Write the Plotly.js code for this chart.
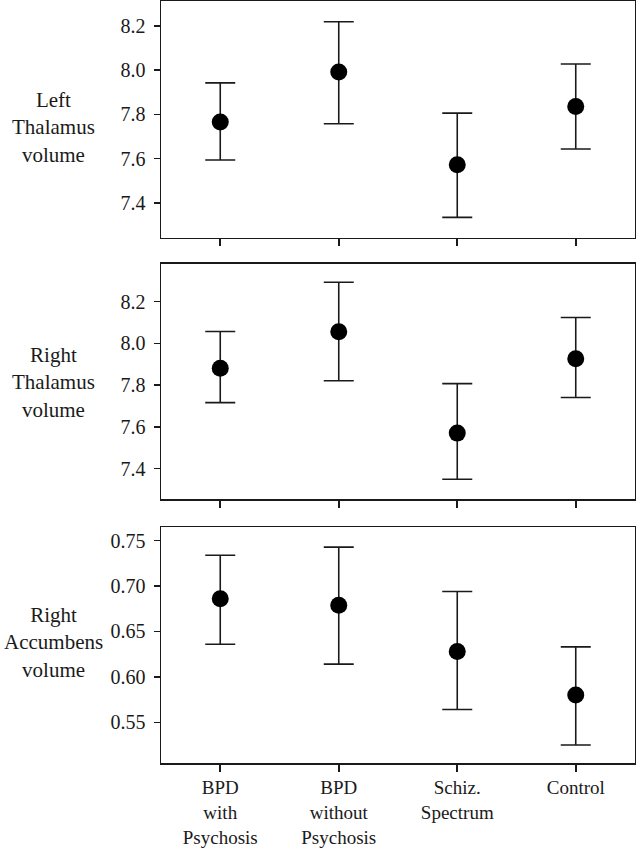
<!DOCTYPE html>
<html><head><meta charset="utf-8">
<script src="https://cdn.plot.ly/plotly-3.0.1.min.js"></script>
<style>body{margin:0;background:#fff}#chart{width:636px;height:852px}</style>
</head><body><div id="chart"></div>
<script>
const categories = ["BPD<br>with<br>Psychosis", "BPD<br>without<br>Psychosis", "Schiz.<br>Spectrum", "Control"];
const panelTitles = ["Left<br>Thalamus<br>volume", "Right<br>Thalamus<br>volume", "Right<br>Accumbens<br>volume"];

const leftThalMean  = [7.766, 7.992, 7.573, 7.836];
const leftThalUpper = [7.943, 8.219, 7.806, 8.028];
const leftThalLower = [7.594, 7.758, 7.335, 7.644];

const rightThalMean  = [7.881, 8.056, 7.570, 7.926];
const rightThalUpper = [8.057, 8.293, 7.807, 8.124];
const rightThalLower = [7.716, 7.821, 7.349, 7.741];

const rightAccMean  = [0.686, 0.679, 0.628, 0.580];
const rightAccUpper = [0.734, 0.743, 0.694, 0.633];
const rightAccLower = [0.636, 0.614, 0.564, 0.525];

const FONT = "Liberation Serif";
const INK = "#1a1a1a";

function trace(mean, upper, lower, xa, ya) {
  return {
    type: "scatter", mode: "markers",
    x: categories.map((c, i) => i), y: mean,
    xaxis: xa, yaxis: ya,
    marker: {size: 17, color: "#000"},
    error_y: {
      type: "data", symmetric: false,
      array: upper.map((u, i) => u - mean[i]),
      arrayminus: lower.map((l, i) => mean[i] - l),
      color: INK, thickness: 1.6, width: 15
    },
    showlegend: false, hoverinfo: "skip"
  };
}

const data = [
  trace(leftThalMean, leftThalUpper, leftThalLower, "x", "y"),
  trace(rightThalMean, rightThalUpper, rightThalLower, "x2", "y2"),
  trace(rightAccMean, rightAccUpper, rightAccLower, "x3", "y3")
];

function xax(anchor, labels) {
  return {
    anchor: anchor, domain: [0, 1], range: [-0.5, 3.5],
    tickmode: "array", tickvals: [0, 1, 2, 3],
    ticktext: labels ? categories : ["", "", "", ""],
    showticklabels: !!labels,
    ticks: "outside", ticklen: 7, tickwidth: 2, tickcolor: INK,
    showline: true, mirror: true, linecolor: INK, linewidth: 1.5,
    showgrid: false, zeroline: false,
    tickfont: {family: FONT, size: 19, color: INK}
  };
}
function yax(anchor, dom, range, dtick, fmt) {
  return {
    anchor: anchor, domain: dom, range: range, dtick: dtick, tick0: 0, tickformat: fmt,
    ticks: "outside", ticklen: 6, tickwidth: 1.5, tickcolor: INK, ticklabelstandoff: 4,
    showline: true, mirror: true, linecolor: INK, linewidth: 1.5,
    showgrid: false, zeroline: false,
    tickfont: {family: FONT, size: 20, color: INK}
  };
}

const titleFont = {family: FONT, size: 21, color: INK};
const layout = {
  width: 636, height: 852,
  margin: {l: 161, r: 1, t: 1, b: 89},
  paper_bgcolor: "#fff", plot_bgcolor: "#fff",
  font: {family: FONT, color: INK},
  xaxis: xax("y", false),
  xaxis2: xax("y2", false),
  xaxis3: xax("y3", true),
  yaxis: yax("x", [0.6894, 1.0], [7.243, 8.313], 0.2, ".1f"),
  yaxis2: yax("x2", [0.3461, 0.6553], [7.253, 8.382], 0.2, ".1f"),
  yaxis3: yax("x3", [0.0, 0.3093], [0.5051, 0.7648], 0.05, ".2f"),
  annotations: [
    {text: panelTitles[0], xref: "paper", yref: "paper", x: -0.2268, y: 0.8346, showarrow: false, xanchor: "center", yanchor: "middle", font: titleFont},
    {text: panelTitles[1], xref: "paper", yref: "paper", x: -0.2268, y: 0.4987, showarrow: false, xanchor: "center", yanchor: "middle", font: titleFont},
    {text: panelTitles[2], xref: "paper", yref: "paper", x: -0.2268, y: 0.1575, showarrow: false, xanchor: "center", yanchor: "middle", font: titleFont}
  ]
};

Plotly.newPlot("chart", data, layout, {displayModeBar: false, staticPlot: true});
</script></body></html>
